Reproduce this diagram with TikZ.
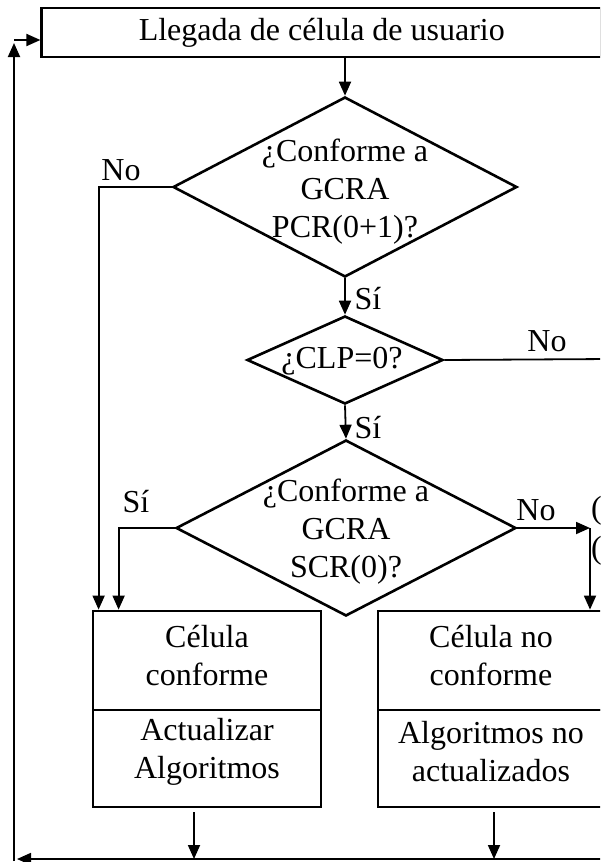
\documentclass[tikz,border=0pt]{standalone}
\usepackage{fontspec}
\setmainfont{Liberation Serif}
\usetikzlibrary{shapes.geometric,arrows.meta}
\begin{document}
\begin{tikzpicture}[x=1pt,y=-1pt]
	% Styles des boîtes, losanges et flèches
	\tikzset{
		texte/.style={font=\fontsize{32}{38}\selectfont, align=center, inner sep=0pt},
		boite/.style={texte, draw, line width=2.8pt, line join=miter},
		decision/.style={diamond, draw, line width=2.6pt, inner sep=0pt, line join=miter},
		fleche/.style={line width=1.8pt, -{Triangle[length=14pt,width=12pt]}},
		trait/.style={line width=1.8pt}
	}
	\useasboundingbox (0,0) rectangle (600,862);
	\clip (0,0) rectangle (600,862);

	\node[boite, minimum width=560pt, minimum height=49pt] (llegada) at (321.8,32.5) {Llegada de célula de usuario};

	\node[decision, minimum width=344pt, minimum height=180pt] (q1) at (345,187) {};
	\node[texte] (q1t) at (345,192) {¿Conforme a\\GCRA\\PCR(0+1)?};
	\node[decision, minimum width=196pt, minimum height=88pt] (q2) at (345,360) {};
	\node[texte] (q2t) at (342,361) {¿CLP=0?};
	\node[decision, minimum width=340pt, minimum height=176pt] (q3) at (346,528) {};
	\node[texte] (q3t) at (346,532) {¿Conforme a\\GCRA\\SCR(0)?};

	% boîtes du bas : cadre puis texte un peu remonté
	\node[boite, minimum width=228pt, minimum height=99pt] (conf) at (207,660.5) {};
	\node[boite, minimum width=228pt, minimum height=97pt] (act) at (207,758.5) {};
	\node[boite, minimum width=226pt, minimum height=99pt] (noconf) at (491,660.5) {};
	\node[boite, minimum width=226pt, minimum height=97pt] (noact) at (491,758.5) {};
	\node[texte] (conft) at (207,656) {Célula\\conforme};
	\node[texte] (actt) at (207,752) {Actualizar\\Algoritmos};
	\node[texte] (noconft) at (491,656) {Célula no\\conforme};
	\node[texte] (noactt) at (491,752) {Algoritmos no\\actualizados};

	\coordinate (sortie) at (610,359);
	\coordinate (renvoi) at (590,528);
	\coordinate (droite) at (610,859);
	\coordinate (retour) at (14,859);
	\coordinate (coin) at (14,40);

	% étiquettes des branches
	\node[texte] (no1) at (121,170) {No};
	\node[texte] (si1) at (368,299) {Sí};
	\node[texte] (no2) at (547,341) {No};
	\node[texte] (si2) at (368,427.5) {Sí};
	\node[texte] (si3) at (136,502) {Sí};
	\node[texte] (no3) at (536,510) {No};
	\node[texte, anchor=west] (p1) at (591,511) {(};
	\node[texte, anchor=west] (p2) at (591,551) {(};

	\draw[fleche] (llegada.south -| q1.north) -- (q1.north);
	\draw[fleche] (q1.west) -| ([xshift=7pt]conf.north west);
	\draw[fleche] (q1.south) -- (q2.north);
	\draw[trait] (q2.east) -- (sortie);
	\draw[fleche] (q2.south) -- (q3.north);
	\draw[fleche] (q3.west) -| ([xshift=27pt]conf.north west);
	\draw[fleche] (q3.east) -- (renvoi);
	\draw[fleche] (renvoi) -- (renvoi |- noconf.north);
	\draw[fleche] ([xshift=-13pt,yshift=-4pt]act.south) -- ([xshift=-13pt]act.south |- retour);
	\draw[fleche] ([xshift=3pt,yshift=-4pt]noact.south) -- ([xshift=3pt]noact.south |- retour);
	\draw[fleche] (droite) -- ([xshift=3pt]retour);
	\draw[fleche] ([yshift=-2pt]retour) -- ([yshift=-3pt]coin);
	\draw[fleche] (coin) -- (coin -| llegada.west);
\end{tikzpicture}
\end{document}
